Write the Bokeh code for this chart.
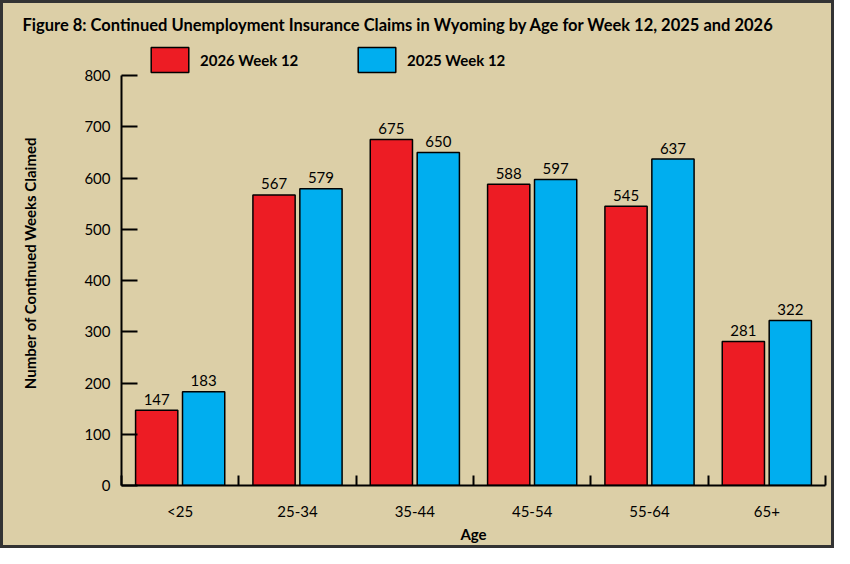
from bokeh.plotting import figure
from bokeh.models import (Range1d, FixedTicker, Legend, LegendItem, ColumnDataSource, Title)
from bokeh.transform import dodge
from bokeh.core.properties import value
from bokeh.embed import file_html
from bokeh.resources import INLINE

# ---- data ----
categories = ["<25", "25-34", "35-44", "45-54", "55-64", "65+"]
claims_2026 = [147, 567, 675, 588, 545, 281]
claims_2025 = [183, 579, 650, 597, 637, 322]
series_names = ["2026 Week 12", "2025 Week 12"]
y_ticks = [0, 100, 200, 300, 400, 500, 600, 700, 800]

FONT = "Lato"
BG = "#DCCFA7"
RED = "#ED1C24"
BLUE = "#00AEEF"

pos = [i + 0.5 for i in range(len(categories))]
src = ColumnDataSource(dict(
    x=pos,
    cat=categories,
    v26=claims_2026,
    v25=claims_2025,
    t26=[str(v) for v in claims_2026],
    t25=[str(v) for v in claims_2025],
))

p = figure(width=834, height=548, output_backend="svg", toolbar_location=None,
           x_range=Range1d(0, len(categories)), y_range=Range1d(0, 868.3),
           min_border_left=121, min_border_right=9, min_border_top=40,
           min_border_bottom=63)
p.background_fill_alpha = 0
p.border_fill_alpha = 0
p.outline_line_color = None
p.grid.visible = False
p.styles = {"background-color": BG, "box-shadow": "inset 0 0 0 3px #333333"}

r26 = p.vbar(x=dodge("x", -0.2), top="v26", width=0.36, source=src,
             fill_color=RED, line_color="black", line_width=1.5)
r25 = p.vbar(x=dodge("x", 0.2), top="v25", width=0.36, source=src,
             fill_color=BLUE, line_color="black", line_width=1.5)

for col, off, top in (("t26", -0.2, "v26"), ("t25", 0.2, "v25")):
    p.text(x=dodge("x", off), y=top, text=col, source=src, text_align="center",
           text_baseline="alphabetic", y_offset=-11, text_font=value(FONT),
           text_font_size="15px", text_color="black")

# x axis
xa = p.xaxis[0]
xa.ticker = FixedTicker(ticks=pos, minor_ticks=list(range(len(categories) + 1)))
xa.major_label_overrides = {p_: c for p_, c in zip(pos, categories)}
xa.major_tick_line_color = None
xa.minor_tick_in = 10
xa.minor_tick_out = 0
xa.minor_tick_line_color = "black"
xa.minor_tick_line_width = 2
xa.axis_line_color = "black"
xa.axis_line_width = 2
xa.major_label_standoff = 10
xa.major_label_text_font = FONT
xa.major_label_text_font_size = "15px"
xa.major_label_text_color = "black"
xa.axis_label = "Age"
xa.axis_label_text_font = FONT
xa.axis_label_text_font_size = "15px"
xa.axis_label_text_font_style = "bold"
xa.axis_label_text_color = "black"
xa.axis_label_standoff = 2

# y axis
ya = p.yaxis[0]
ya.ticker = FixedTicker(ticks=y_ticks, minor_ticks=[])
ya.bounds = (0, 800)
ya.major_tick_in = 16
ya.major_tick_out = 0
ya.major_tick_line_width = 2
ya.major_tick_line_color = "black"
ya.minor_tick_line_color = None
ya.axis_line_color = "black"
ya.axis_line_width = 2
ya.major_label_standoff = 11
ya.major_label_text_font = FONT
ya.major_label_text_font_size = "15px"
ya.major_label_text_color = "black"
ya.axis_label = "Number of Continued Weeks Claimed"
ya.axis_label_text_font = FONT
ya.axis_label_text_font_size = "15px"
ya.axis_label_text_font_style = "bold"
ya.axis_label_text_color = "black"
ya.axis_label_standoff = 42

legend = Legend(items=[LegendItem(label=series_names[0], renderers=[r26]),
                       LegendItem(label=series_names[1], renderers=[r25])],
                orientation="horizontal", location=(25, 410),
                glyph_width=47, glyph_height=31, label_standoff=7,
                label_width=110, spacing=43, padding=0, margin=0,
                border_line_color=None, background_fill_alpha=0,
                label_text_font=FONT, label_text_font_size="15px",
                label_text_font_style="bold", label_text_color="black")
p.add_layout(legend)

title = Title(text="Figure 8: Continued Unemployment Insurance Claims in Wyoming by Age for Week 12, 2025 and 2026",
              align="left", offset=-99, standoff=11, text_font=FONT,
              text_font_size="16.5px", text_font_style="bold", text_color="black")
p.add_layout(title, "above")

open("out.html", "w").write(file_html(p, INLINE))
